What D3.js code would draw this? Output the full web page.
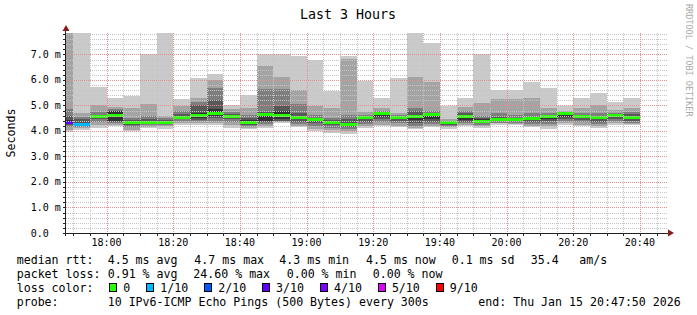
<!DOCTYPE html>
<html lang="en">
<head>
<meta charset="UTF-8">
<title>Last 3 Hours</title>
<script src="https://d3js.org/d3.v7.min.js"></script>
<style>
  body { margin: 0; background: #fff; }
  text { font-family: "DejaVu Sans Mono", monospace; fill: #000; }
</style>
</head>
<body>
<script>
// 10 sorted ping rtts (ms) per 5 minute bucket, first bucket starts 17:45
const pings = [
  [3.95, 4.05, 4.15, 4.22, 4.30, 4.42, 4.60, 4.87, 8.00, 8.00],
  [4.05, 4.10, 4.15, 4.18, 4.20, 4.30, 4.45, 4.55, 4.71, 8.00],
  [4.12, 4.22, 4.35, 4.45, 4.52, 4.58, 4.62, 4.75, 5.00, 5.72],
  [4.20, 4.25, 4.30, 4.35, 4.40, 4.77, 4.80, 4.85, 4.95, 5.30],
  [3.98, 4.05, 4.15, 4.25, 4.30, 4.36, 4.42, 4.50, 4.90, 5.38],
  [4.10, 4.17, 4.22, 4.27, 4.30, 4.38, 4.45, 4.60, 5.05, 7.00],
  [4.08, 4.18, 4.25, 4.30, 4.33, 4.38, 4.42, 4.50, 4.60, 8.00],
  [4.22, 4.30, 4.38, 4.45, 4.50, 4.60, 4.68, 4.80, 4.98, 5.26],
  [4.25, 4.30, 4.38, 4.42, 4.50, 4.72, 5.00, 5.15, 5.30, 6.08],
  [4.22, 4.30, 4.40, 4.50, 4.60, 4.85, 5.20, 5.70, 6.00, 6.24],
  [4.12, 4.22, 4.35, 4.45, 4.55, 4.62, 4.65, 4.75, 4.88, 5.00],
  [4.06, 4.12, 4.18, 4.25, 4.30, 4.42, 4.50, 4.62, 4.90, 5.40],
  [4.12, 4.20, 4.28, 4.35, 4.40, 4.67, 4.75, 5.65, 6.55, 7.02],
  [4.32, 4.35, 4.38, 4.40, 4.45, 4.78, 4.97, 5.65, 6.10, 7.02],
  [4.14, 4.20, 4.28, 4.35, 4.45, 4.55, 4.70, 5.04, 5.62, 6.93],
  [3.98, 4.08, 4.20, 4.30, 4.38, 4.46, 4.50, 4.62, 4.96, 6.79],
  [3.93, 4.02, 4.12, 4.22, 4.30, 4.37, 4.42, 4.52, 4.90, 5.56],
  [3.90, 4.00, 4.08, 4.15, 4.20, 4.32, 4.45, 4.62, 6.82, 6.93],
  [4.12, 4.20, 4.28, 4.35, 4.45, 4.52, 4.56, 4.62, 4.76, 5.94],
  [4.18, 4.25, 4.35, 4.45, 4.55, 4.72, 4.75, 4.80, 4.90, 5.29],
  [4.14, 4.20, 4.30, 4.38, 4.45, 4.52, 4.55, 4.62, 4.72, 6.07],
  [4.06, 4.12, 4.20, 4.30, 4.42, 4.60, 4.78, 4.90, 6.12, 8.00],
  [4.14, 4.20, 4.28, 4.35, 4.45, 4.62, 4.70, 4.80, 5.92, 7.45],
  [4.08, 4.15, 4.20, 4.25, 4.30, 4.35, 4.37, 4.40, 4.45, 4.96],
  [4.18, 4.25, 4.30, 4.35, 4.42, 4.62, 4.70, 4.80, 4.94, 5.29],
  [4.12, 4.18, 4.25, 4.30, 4.35, 4.45, 4.50, 4.60, 5.08, 7.02],
  [4.25, 4.30, 4.33, 4.38, 4.42, 4.48, 4.55, 4.70, 5.25, 5.62],
  [4.22, 4.28, 4.33, 4.38, 4.42, 4.47, 4.52, 4.62, 5.25, 5.62],
  [4.14, 4.20, 4.28, 4.35, 4.42, 4.50, 4.55, 4.70, 5.29, 5.90],
  [4.08, 4.18, 4.28, 4.38, 4.48, 4.58, 4.62, 4.72, 4.90, 5.69],
  [4.25, 4.30, 4.38, 4.45, 4.55, 4.70, 4.72, 4.75, 4.80, 4.96],
  [4.18, 4.25, 4.35, 4.42, 4.50, 4.58, 4.62, 4.72, 4.90, 5.29],
  [4.12, 4.20, 4.28, 4.35, 4.45, 4.53, 4.58, 4.70, 5.00, 5.49],
  [4.25, 4.30, 4.38, 4.45, 4.55, 4.62, 4.66, 4.72, 4.82, 5.14],
  [4.22, 4.28, 4.33, 4.38, 4.45, 4.55, 4.65, 4.75, 4.90, 5.29]
];
const medians = [
  4.34, 4.25, 4.56, 4.60, 4.33, 4.33, 4.35, 4.54, 4.60, 4.70,
  4.58, 4.33, 4.65, 4.62, 4.51, 4.43, 4.34, 4.25, 4.51, 4.67,
  4.51, 4.56, 4.64, 4.34, 4.55, 4.39, 4.45, 4.45, 4.48, 4.55,
  4.67, 4.56, 4.51, 4.60, 4.51
];
const losses = [3, 1, 0, 0, 0, 0, 0, 0, 0, 0, 0, 0, 0, 0, 0, 0, 0, 0, 0, 0,
  0, 0, 0, 0, 0, 0, 0, 0, 0, 0, 0, 0, 0, 0, 0];

const lossSteps = [0, 1, 2, 3, 4, 5, 9];
const lossLabels = ["0", "1/10", "2/10", "3/10", "4/10", "5/10", "9/10"];
const lossColors = ["#26ff00", "#00b8ff", "#0059ff", "#5e00ff", "#7e00ff", "#dd00ff", "#ff0000"];
const smokeColors = ["#cacaca", "#a4a4a4", "#7e7e7e", "#585858", "#323232"];

const yTicks = [0, 1, 2, 3, 4, 5, 6, 7];
const yTickLabels = ["0.0", "1.0 m", "2.0 m", "3.0 m", "4.0 m", "5.0 m", "6.0 m", "7.0 m"];

const statRows = [
  ["median rtt:", [[107.7, "4.5 ms avg"], [194.3, "4.7 ms max"], [279.3, "4.3 ms min"], [366, "4.5 ms now"], [451.7, "0.1 ms sd"], [530.7, "35.4"], [579.3, "am/s"]]],
  ["packet loss:", [[107.7, "0.91 % avg"], [193.3, "24.60 % max"], [286.7, "0.00 % min"], [372.7, "0.00 % now"]]],
  ["loss color:", []],
  ["probe:", [[107.7, "10 IPv6-ICMP Echo Pings (500 Bytes) every 300s"], [478.3, "end: Thu Jan 15 20:47:50 2026"]]]
];

const W = 697, H = 315;
const plotL = 66, plotR = 666, plotT = 33, plotB = 233;
const tStart = new Date(Date.UTC(2026, 0, 15, 17, 47, 50));
const tEnd = new Date(Date.UTC(2026, 0, 15, 20, 47, 50));
const bucket0 = Date.UTC(2026, 0, 15, 17, 45, 0);
const step = 5 * 60 * 1000;

const x = d3.scaleUtc().domain([tStart, tEnd]).range([plotL, plotR]);
const y = d3.scaleLinear().domain([0, 7.84]).range([plotB, plotT]);

const svg = d3.select("body").append("svg")
  .attr("width", W).attr("height", H);

svg.append("defs").append("clipPath").attr("id", "plot")
  .append("rect").attr("x", plotL).attr("y", plotT)
  .attr("width", plotR - plotL).attr("height", plotB - plotT);

// smoke
const bars = svg.append("g").attr("clip-path", "url(#plot)")
  .attr("shape-rendering", "crispEdges");
pings.forEach((p, i) => {
  const x0 = x(new Date(bucket0 + i * step)), x1 = x(new Date(bucket0 + (i + 1) * step));
  smokeColors.forEach((c, k) => {
    bars.append("rect")
      .attr("x", x0).attr("width", x1 - x0)
      .attr("y", y(p[9 - k])).attr("height", y(p[k]) - y(p[9 - k]))
      .attr("fill", c);
  });
  const li = lossSteps.indexOf(losses[i]);
  bars.append("rect")
    .attr("x", x0).attr("width", x1 - x0)
    .attr("y", y(medians[i]) - 1.5).attr("height", 3)
    .attr("fill", lossColors[li]);
});

// grid
const grid = svg.append("g").attr("shape-rendering", "crispEdges");
const minorY = d3.range(0, 7.81, 0.2).filter(v => Math.abs(v - Math.round(v)) > 0.01);
grid.selectAll(".hmin").data(minorY).enter().append("line")
  .attr("x1", plotL).attr("x2", plotR + 2)
  .attr("y1", d => Math.round(y(d)) + 0.5).attr("y2", d => Math.round(y(d)) + 0.5)
  .attr("stroke", "#c4c4c4").attr("stroke-dasharray", "1,1");
grid.selectAll(".vmin").data(d3.utcMinute.every(5).range(tStart, tEnd)).enter().append("line")
  .attr("x1", d => Math.round(x(d)) + 0.5).attr("x2", d => Math.round(x(d)) + 0.5)
  .attr("y1", plotT).attr("y2", plotB)
  .attr("stroke", "#c4c4c4").attr("stroke-dasharray", "1,1");
grid.selectAll(".hmaj").data(yTicks.slice(1)).enter().append("line")
  .attr("x1", plotL).attr("x2", plotR + 2)
  .attr("y1", d => Math.round(y(d)) + 0.5).attr("y2", d => Math.round(y(d)) + 0.5)
  .attr("stroke", "#e58f8f").attr("stroke-dasharray", "1,1");
const majorX = d3.utcMinute.every(20).range(tStart, tEnd);
grid.selectAll(".vmaj").data(majorX).enter().append("line")
  .attr("x1", d => Math.round(x(d)) + 0.5).attr("x2", d => Math.round(x(d)) + 0.5)
  .attr("y1", plotT).attr("y2", plotB)
  .attr("stroke", "#e58f8f").attr("stroke-dasharray", "1,1");

// axes
const ax = svg.append("g").attr("shape-rendering", "crispEdges");
ax.append("line").attr("x1", 63).attr("x2", 669).attr("y1", plotB + 0.5).attr("y2", plotB + 0.5)
  .attr("stroke", "#222");
ax.append("line").attr("x1", plotL - 0.5).attr("x2", plotL - 0.5).attr("y1", plotB + 3).attr("y2", 30)
  .attr("stroke", "#222");
ax.selectAll(".yt").data(d3.range(0, 7.81, 0.2)).enter().append("line")
  .attr("x1", plotL - 3).attr("x2", plotL)
  .attr("y1", d => Math.round(y(d)) + 0.5).attr("y2", d => Math.round(y(d)) + 0.5)
  .attr("stroke", "#222");
ax.selectAll(".xt").data(d3.utcMinute.every(5).range(tStart, tEnd)).enter().append("line")
  .attr("x1", d => Math.round(x(d)) + 0.5).attr("x2", d => Math.round(x(d)) + 0.5)
  .attr("y1", plotB).attr("y2", plotB + 3)
  .attr("stroke", "#222");
svg.append("path").attr("d", "M62.5,31 L69.5,31 L66,25 Z").attr("fill", "#8b1a1a");
svg.append("path").attr("d", "M668,229.5 L668,236.5 L674,233 Z").attr("fill", "#8b1a1a");

// tick labels
svg.selectAll(".ylab").data(yTicks).enter().append("text")
  .attr("x", 30.7).attr("y", d => y(d) + 3.5)
  .attr("font-size", "10px")
  .text((d, i) => yTickLabels[i]);
svg.selectAll(".xlab").data(majorX).enter().append("text")
  .attr("x", d => x(d)).attr("y", 245.5)
  .attr("text-anchor", "middle").attr("font-size", "10px")
  .text(d3.utcFormat("%H:%M"));

// title, unit, watermark
svg.append("text").attr("x", 348).attr("y", 18.5).attr("text-anchor", "middle")
  .attr("font-size", "13.3px").text("Last 3 Hours");
svg.append("text").attr("transform", "translate(15,133) rotate(-90)")
  .attr("text-anchor", "middle").attr("font-size", "11.6px").text("Seconds");
svg.append("text").attr("transform", "translate(685.5,4) rotate(90)")
  .attr("font-size", "8.5px").style("fill", "#aaa").text("RRDTOOL / TOBI OETIKER");

// legend
statRows.forEach((row, r) => {
  const by = 263.5 + r * 14;
  svg.append("text").attr("x", 16.7).attr("y", by).attr("font-size", "11.6px").text(row[0]);
  row[1].forEach(s => {
    svg.append("text").attr("x", s[0]).attr("y", by).attr("font-size", "11.6px").text(s[1]);
  });
});
lossLabels.forEach((lab, i) => {
  const bx = i === 0 ? 109 : 146 + (i - 1) * 57.9;
  svg.append("rect").attr("x", bx + 0.5).attr("y", 283.5).attr("width", 7).attr("height", 8)
    .attr("fill", lossColors[i]).attr("stroke", "#000").attr("shape-rendering", "crispEdges");
  svg.append("text").attr("x", bx + 14.3).attr("y", 291.5).attr("font-size", "11.6px").text(lab);
});
</script>
</body>
</html>
